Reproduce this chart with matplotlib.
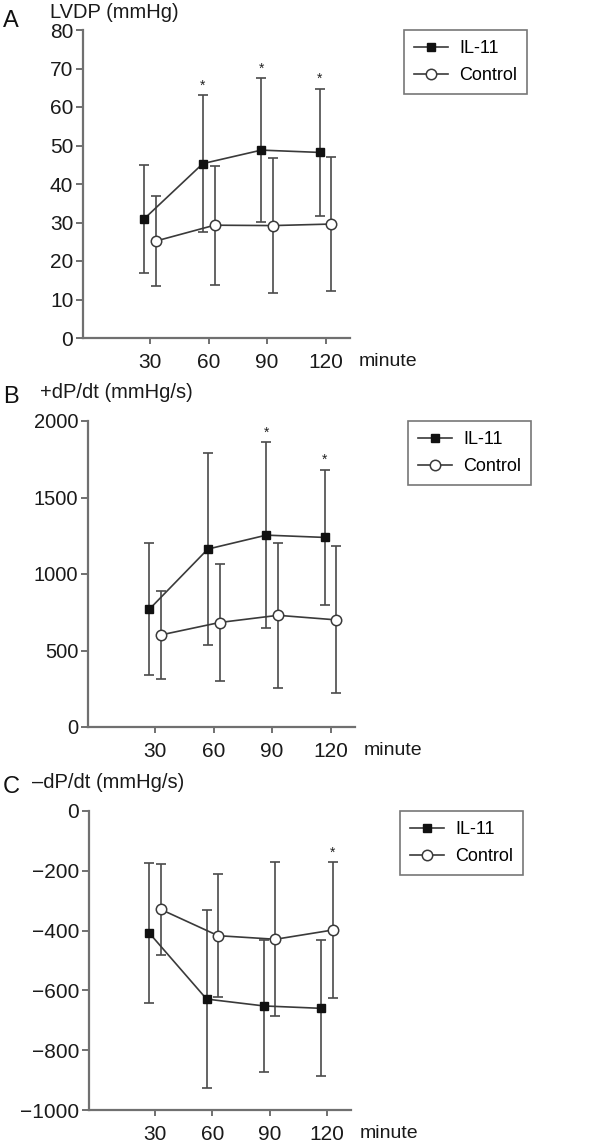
import matplotlib
matplotlib.use('Agg')
import matplotlib.pyplot as plt
from matplotlib.lines import Line2D

plt.rcParams['font.family'] = ['Liberation Sans', 'DejaVu Sans']
NARROW = ['Liberation Sans Narrow', 'Liberation Sans', 'DejaVu Sans']

# Data
minutes = [30, 60, 90, 120]

lvdp_il11 = [31.0, 45.3, 48.8, 48.2]
lvdp_il11_sd = [14.0, 17.8, 18.7, 16.6]
lvdp_ctrl = [25.2, 29.3, 29.2, 29.6]
lvdp_ctrl_sd = [11.7, 15.5, 17.5, 17.4]

pdpdt_il11 = [770, 1163, 1254, 1239]
pdpdt_il11_sd = [433, 626, 607, 442]
pdpdt_ctrl = [602, 683, 730, 700]
pdpdt_ctrl_sd = [290, 380, 475, 480]

ndpdt_il11 = [-408, -629, -652, -660]
ndpdt_il11_sd = [234, 297, 220, 227]
ndpdt_ctrl = [-329, -417, -429, -398]
ndpdt_ctrl_sd = [152, 206, 258, 226]

# which points get an asterisk (series, minute)
sig_a = [('il11', 60), ('il11', 90), ('il11', 120)]
sig_b = [('il11', 90), ('il11', 120)]
sig_c = [('ctrl', 120)]

W, H = 602, 1145
fig = plt.figure(figsize=(W / 100, H / 100), dpi=100)

AXCOL = '#707070'
LINECOL = '#3a3a3a'
ERRCOL = '#4a4a4a'
SHIFT = 3


def px(l, t, r, b):
    return [l / W, 1 - b / H, (r - l) / W, (b - t) / H]


def panel(rect, il, il_sd, ct, ct_sd, ylim, yticks, sig, letter, ylabel,
          lab_y, leg_xy, yfont):
    ax = fig.add_axes(rect)
    x_il = [m - SHIFT for m in minutes]
    x_ct = [m + SHIFT for m in minutes]
    ax.errorbar(x_il, il, yerr=il_sd, fmt='none', ecolor=ERRCOL,
                elinewidth=1.2, capsize=3.8, capthick=1.2, zorder=2)
    ax.errorbar(x_ct, ct, yerr=ct_sd, fmt='none', ecolor=ERRCOL,
                elinewidth=1.2, capsize=3.8, capthick=1.2, zorder=2)
    ax.plot(x_il, il, color=LINECOL, lw=1.2, marker='s', ms=5.8,
            mfc='#111111', mec='#111111', zorder=3)
    ax.plot(x_ct, ct, color=LINECOL, lw=1.2, marker='o', ms=7.5,
            mfc='white', mec=LINECOL, mew=1.1, zorder=3)

    for series, m in sig:
        i = minutes.index(m)
        if series == 'il11':
            x, top = x_il[i], il[i] + il_sd[i]
        else:
            x, top = x_ct[i], ct[i] + ct_sd[i]
        ax.annotate('*', xy=(x, top), xytext=(0, 7), textcoords='offset points',
                    ha='center', va='center', fontsize=10, color='#222222')

    ax.set_xlim(-4.5, 132.5)
    ax.set_ylim(*ylim)
    ax.set_xticks(minutes)
    ax.set_xticklabels([str(m) for m in minutes], family=NARROW, fontsize=15)
    ax.set_yticks(yticks)
    ax.set_yticklabels([f'{int(v)}'.replace('-', '\u2212') for v in yticks],
                       family=yfont[0], fontsize=yfont[1])
    for s in ['top', 'right']:
        ax.spines[s].set_visible(False)
    for s in ['left', 'bottom']:
        ax.spines[s].set_color(AXCOL)
        ax.spines[s].set_linewidth(1.6)
    ax.tick_params(axis='both', colors=AXCOL, labelcolor='#1a1a1a', width=1.4)
    ax.tick_params(axis='y', length=5, pad=2)
    ax.tick_params(axis='x', length=4, pad=7)

    ax.annotate('minute', xy=(1, 0), xycoords='axes fraction',
                xytext=(6, -11), textcoords='offset points',
                ha='left', va='top', fontsize=14, family=NARROW,
                color='#1a1a1a')

    fig.text(3 / W, 1 - lab_y[0] / H, letter, fontsize=17, va='center',
             ha='left', color='#111111')
    fig.text(lab_y[2] / W, 1 - lab_y[1] / H, ylabel, fontsize=14.5,
             va='center', ha='left', color='#1a1a1a', family=NARROW)

    handles = [
        Line2D([], [], color=LINECOL, lw=1.2, marker='s', ms=5.8,
               mfc='#111111', mec='#111111'),
        Line2D([], [], color=LINECOL, lw=1.2, marker='o', ms=7.5,
               mfc='white', mec=LINECOL, mew=1.1),
    ]
    leg = ax.legend(handles, ['IL-11', 'Control'], loc='upper left',
                    bbox_to_anchor=(leg_xy[0] / W, 1 - leg_xy[1] / H),
                    bbox_transform=fig.transFigure, fontsize=13,
                    frameon=True, fancybox=False, handlelength=1.9,
                    handletextpad=0.6, borderpad=0.55, labelspacing=0.55,
                    borderaxespad=0)
    leg.get_frame().set_edgecolor('#555555')
    leg.get_frame().set_linewidth(1.2)
    return ax


panel(px(83, 30, 350, 338), lvdp_il11, lvdp_il11_sd, lvdp_ctrl, lvdp_ctrl_sd,
      (0, 80), list(range(0, 81, 10)), sig_a, 'A', 'LVDP (mmHg)',
      (21, 13, 50), (404, 30), (NARROW, 15))
panel(px(88, 421, 355, 727), pdpdt_il11, pdpdt_il11_sd, pdpdt_ctrl,
      pdpdt_ctrl_sd, (0, 2000), list(range(0, 2001, 500)), sig_b, 'B',
      '+dP/dt (mmHg/s)', (397, 392, 40), (408, 421),
      (['Liberation Sans', 'DejaVu Sans'], 14.5))
panel(px(89, 811, 351, 1110), ndpdt_il11, ndpdt_il11_sd, ndpdt_ctrl,
      ndpdt_ctrl_sd, (-1000, 0), list(range(-1000, 1, 200)), sig_c, 'C',
      '\u2013dP/dt (mmHg/s)', (787, 782, 32), (400, 811), (NARROW, 15))

fig.savefig('out.png', dpi=100)
